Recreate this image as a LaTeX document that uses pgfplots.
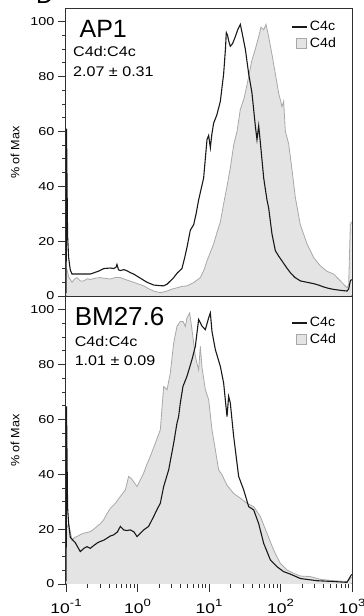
\documentclass[border=0pt]{standalone}
\usepackage{pgfplots}
\usepackage{pgfplotstable}
\pgfplotsset{compat=1.18}
\usepackage{fontspec}
\setmainfont{Liberation Sans}
\newfontfamily\tickf{Liberation Sans}[FakeStretch=1.25]
\newfontfamily\smallf{Liberation Sans}[FakeStretch=1.15]
\newfontfamily\legf{Liberation Sans}[FakeStretch=1.05]
\newfontfamily\xtf{Liberation Sans}[FakeStretch=1.25]
\definecolor{fillg}{HTML}{E4E4E4}
\definecolor{edgeg}{HTML}{A8A8A8}
\definecolor{axc}{HTML}{303030}
\newcommand\tpow[1]{10\raisebox{7pt}{\fontsize{10.5}{10}\selectfont #1}}

% log10(intensity)  percent of max
\pgfplotstableread{
d v
-0.998 1
-0.993 61
-0.978 22
-0.963 14
-0.940 9.5
-0.916 8
-0.800 8
-0.660 8
-0.550 9
-0.473 10
-0.380 10.2
-0.333 10
-0.300 10.5
-0.287 11.5
-0.265 9.5
-0.240 9.3
-0.190 9.6
-0.147 9.2
-0.100 8.5
-0.054 8
0.040 6.5
0.133 5
0.226 4
0.300 3.8
0.366 3.7
0.413 4.3
0.460 5.5
0.506 6.7
0.560 8.5
0.622 10
0.660 14
0.692 17.7
0.739 24
0.786 26
0.820 30
0.855 35
0.925 43
0.972 57
0.995 58.5
1.019 54
1.040 59
1.065 63
1.110 66
1.159 71
1.205 81
1.230 90
1.242 96
1.260 95
1.275 93
1.298 91
1.330 92
1.368 94.5
1.401 97
1.438 99
1.462 96
1.508 90
1.555 81
1.601 74
1.648 62
1.671 57
1.695 62
1.718 56
1.765 43
1.811 35
1.835 32
1.881 22.6
1.928 16.5
1.975 14.5
2.021 12.8
2.080 10.5
2.138 8.5
2.200 6.8
2.277 5.5
2.370 5.0
2.464 4.5
2.530 4.0
2.604 3.3
2.670 2.8
2.744 2.4
2.830 2.1
2.930 1.8
2.953 2.5
2.977 5.5
2.995 6
}\ctop

\pgfplotstableread{
d v
-0.995 10
-0.980 9
-0.963 7
-0.916 5
-0.880 6.2
-0.846 6.7
-0.800 5.5
-0.753 5.5
-0.700 6.3
-0.660 6
-0.590 6.5
-0.520 6.7
-0.450 6.4
-0.380 6.2
-0.300 6.8
-0.240 6.7
-0.190 6.2
-0.147 5.8
-0.100 5.4
-0.054 5
0.010 4.4
0.086 3.7
0.160 2.6
0.226 1.8
0.319 1.2
0.413 1.8
0.480 2.5
0.552 3
0.620 3.5
0.692 3.7
0.786 4.9
0.879 6.7
0.930 9.5
0.972 12.8
1.020 16
1.065 19
1.110 23
1.159 27
1.200 33
1.252 40
1.300 47
1.345 55
1.392 60
1.438 68
1.490 72
1.532 77
1.570 82
1.601 86
1.648 90
1.695 94.5
1.727 98
1.765 97
1.797 99
1.835 94.5
1.881 88
1.928 81
1.974 74
2.021 69
2.044 71
2.068 60
2.114 55.5
2.161 46
2.207 36
2.277 26
2.371 19
2.464 14
2.557 11
2.650 9
2.744 8
2.837 5.5
2.930 3
2.953 4
2.977 26
2.995 27
}\gtop

\pgfplotstableread{
d v
-0.998 1
-0.993 64.7
-0.978 28
-0.963 22
-0.939 17
-0.869 15
-0.800 11.8
-0.750 13
-0.706 13.6
-0.660 13
-0.613 14
-0.560 15
-0.520 15.5
-0.470 16
-0.427 16.7
-0.380 17.5
-0.333 17.9
-0.280 19
-0.240 21
-0.193 19.7
-0.150 19.5
-0.100 19.7
-0.050 19
-0.007 17.3
0.040 18.5
0.086 19.7
0.156 21
0.226 24.6
0.280 27.5
0.319 29.4
0.366 35.5
0.436 41.6
0.506 51.3
0.552 58.6
0.575 61
0.599 66
0.636 72
0.692 75.7
0.762 81.8
0.809 86.6
0.855 96.4
0.902 94
0.949 92.7
0.995 97
1.019 98.8
1.042 92
1.089 85.4
1.159 79.3
1.205 73.2
1.252 61
1.275 68.4
1.298 66
1.345 53.8
1.415 39.2
1.485 34.3
1.555 28.2
1.625 27
1.695 22
1.765 14.8
1.858 8.8
1.951 6.3
2.044 4.5
2.138 3.6
2.277 2
2.510 1.2
2.744 0.9
2.930 0.6
2.977 2.7
2.995 3.5
}\cbot

\pgfplotstableread{
d v
-0.995 20
-0.980 21
-0.963 22
-0.916 16
-0.880 17
-0.846 17.3
-0.800 18
-0.753 18.5
-0.700 18.8
-0.660 19.1
-0.610 20
-0.566 21
-0.520 22
-0.473 23.4
-0.430 25.5
-0.380 27.6
-0.310 29.4
-0.240 31.9
-0.170 34.3
-0.124 39.2
-0.090 38.5
-0.054 37.3
-0.007 35.5
0.040 38
0.086 40.4
0.130 43.5
0.179 46.5
0.249 51.3
0.319 56.2
0.366 72
0.413 70.8
0.459 76.9
0.506 87.8
0.552 93.9
0.599 95.7
0.636 95.7
0.669 93.9
0.692 97
0.730 98.8
0.762 92.7
0.809 83
0.855 78
0.879 86.6
0.902 79
0.949 70.8
0.995 67.2
1.042 56.2
1.089 48.9
1.135 41.6
1.182 39.8
1.252 36
1.345 33
1.438 31.3
1.532 29.4
1.625 28.2
1.718 24.6
1.811 18.5
1.904 12.4
1.998 7.5
2.091 5.1
2.184 3.9
2.277 2.9
2.417 2.7
2.557 1.7
2.744 1.2
2.930 0.9
2.977 2
2.995 2.5
}\gbot

\pgfplotsset{
  facs/.style={
    scale only axis, width=286pt, height=287pt,
    xmin=0.1, xmax=1000, ymin=0, ymax=104.6,
    axis line style={axc, line width=1pt},
    ytick={0,20,...,100}, minor y tick num=3,
    ytick pos=left, tick align=outside,
    tick style={axc, line width=0.8pt},
    major tick length=8pt, minor tick length=4pt,
    yticklabel style={font=\tickf\fontsize{11.5}{12}\selectfont, xshift=0pt},
    ylabel={\% of Max},
    ylabel style={at={(axis description cs:-0.178,0.5)}, anchor=center,
      font=\legf\fontsize{12}{12}\selectfont},
    legend style={draw=none, fill=none, anchor=north west,
      font=\legf\fontsize{13.5}{14}\selectfont, inner sep=0pt, row sep=1.5pt},
    legend cell align=left,
  },
}

\begin{document}
\begin{tikzpicture}
\useasboundingbox (0,0) rectangle (364pt,616pt);
\node[anchor=base west, inner sep=0pt, font=\fontsize{24}{24}\selectfont] at (36pt,612pt) {D};

\begin{semilogxaxis}[facs, at={(66pt,320pt)}, anchor=south west, xtick=\empty, xminorticks=false,
  legend style={at={(axis description cs:0.789,0.964)}},
  yticklabel style={/pgf/number format/assume math mode=true}]
\addlegendimage{legend image code/.code={\path[draw=none,fill=none] (0pt,-5pt) rectangle (15pt,5pt);
      \draw[black!90, line width=1.1pt] (0pt,0pt) -- (15pt,0pt);}}
\addlegendentry{C4c}
\addlegendimage{legend image code/.code={\path[draw=none,fill=none] (0pt,-5pt) rectangle (15pt,5pt);
      \draw[fill=fillg, draw=edgeg, line width=0.6pt] (4pt,-4.5pt) rectangle (14pt,5pt);}}
\addlegendentry{C4d}
\addplot[fill=fillg, draw=none, forget plot] table[x expr={10^(\thisrow{d})}, y=v] {\gtop} \closedcycle;
\addplot[edgeg, line width=0.8pt, forget plot] table[x expr={10^(\thisrow{d})}, y=v] {\gtop};
\addplot[black!90, line width=1.1pt, forget plot] table[x expr={10^(\thisrow{d})}, y=v] {\ctop};
\draw[axc, line width=0.8pt] (axis description cs:-0.009,0) -- (axis description cs:-0.009,1);
\node[anchor=base west, inner sep=0pt, font=\fontsize{25}{25}\selectfont] at (axis description cs:0.047,0.902) {AP1};
\node[anchor=base west, inner sep=0pt, font=\smallf\fontsize{14}{14}\selectfont] at (axis description cs:0.0245,0.833) {C4d:C4c};
\node[anchor=base west, inner sep=0pt, font=\smallf\fontsize{14}{14}\selectfont] at (axis description cs:0.0245,0.765) {2.07 ± 0.31};
\end{semilogxaxis}

\begin{semilogxaxis}[facs, at={(66pt,32pt)}, anchor=south west,
  xtick={0.1,1,10,100,1000}, xtick pos=bottom,
  xticklabels={\tpow{-1},\tpow{0},\tpow{1},\tpow{2},\tpow{3}},
  xticklabel style={font=\xtf\fontsize{14}{14}\selectfont, anchor=base, yshift=-21pt},
  legend style={at={(axis description cs:0.789,0.936)}},
  yticklabel style={/pgf/number format/assume math mode=true}]
\addlegendimage{legend image code/.code={\path[draw=none,fill=none] (0pt,-5pt) rectangle (15pt,5pt);
      \draw[black!90, line width=1.1pt] (0pt,0pt) -- (15pt,0pt);}}
\addlegendentry{C4c}
\addlegendimage{legend image code/.code={\path[draw=none,fill=none] (0pt,-5pt) rectangle (15pt,5pt);
      \draw[fill=fillg, draw=edgeg, line width=0.6pt] (4pt,-4.5pt) rectangle (14pt,5pt);}}
\addlegendentry{C4d}
\addplot[fill=fillg, draw=none, forget plot] table[x expr={10^(\thisrow{d})}, y=v] {\gbot} \closedcycle;
\addplot[edgeg, line width=0.8pt, forget plot] table[x expr={10^(\thisrow{d})}, y=v] {\gbot};
\addplot[black!90, line width=1.1pt, forget plot] table[x expr={10^(\thisrow{d})}, y=v] {\cbot};
\draw[axc, line width=0.8pt] (axis description cs:-0.009,-0.028) -- (axis description cs:-0.009,1);
\node[anchor=base west, inner sep=0pt, font=\fontsize{26}{26}\selectfont] at (axis description cs:0.03,0.899) {BM27.6};
\node[anchor=base west, inner sep=0pt, font=\smallf\fontsize{14}{14}\selectfont] at (axis description cs:0.03,0.826) {C4d:C4c};
\node[anchor=base west, inner sep=0pt, font=\smallf\fontsize{14}{14}\selectfont] at (axis description cs:0.03,0.763) {1.01 ± 0.09};
\end{semilogxaxis}
\end{tikzpicture}
\end{document}
